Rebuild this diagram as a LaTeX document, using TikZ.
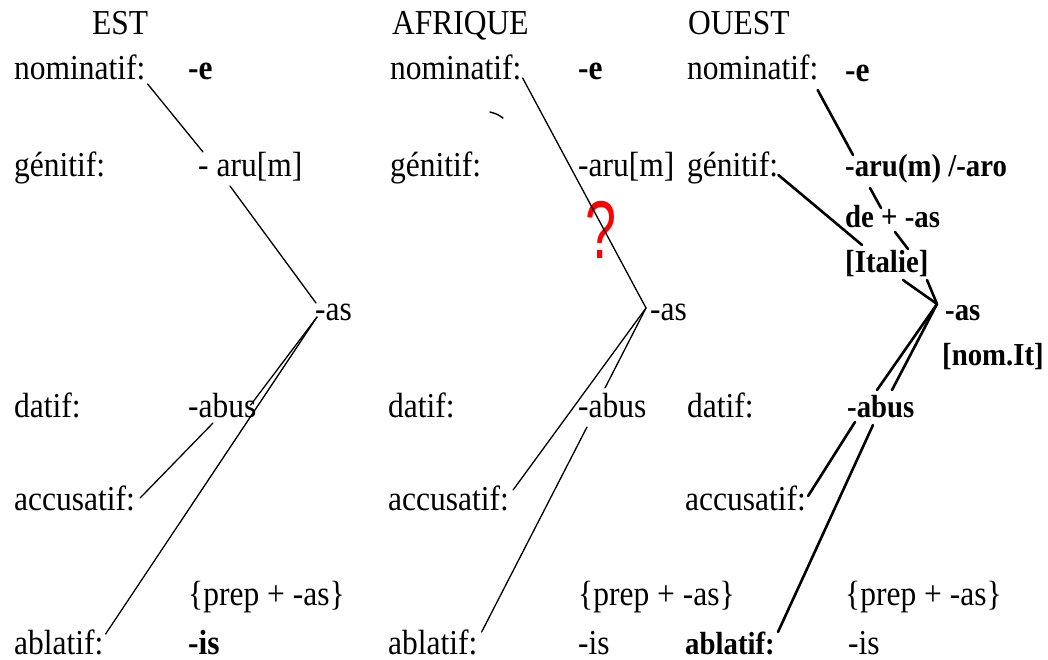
\documentclass[tikz,border=0pt]{standalone}
\usepackage{fontspec}
\usepackage{graphicx}
\setmainfont[FakeStretch=0.9]{Liberation Serif}
\newfontfamily\qfont{Liberation Sans}
\usetikzlibrary{calc}
\begin{document}
\begin{tikzpicture}[x=1pt,y=-1pt,
  lab/.style={anchor=base west, inner sep=0pt, font=\fontsize{35}{40}\selectfont},
  lbb/.style={anchor=base west, inner sep=0pt, font=\fontsize{35}{40}\selectfont\bfseries},
  bo/.style={anchor=base west, inner sep=0pt, font=\fontsize{32}{37}\selectfont\bfseries},
  lastrow/.style={text depth=0pt},
  thinln/.style={line width=1.3pt, line cap=round},
  thickln/.style={line width=2.6pt, line cap=round}]
\useasboundingbox (0,0) rectangle (1048,660);
% ---------------- EST ----------------
\node[lab] (tE) at (92,35) {EST};
\node[lab] (nE) at (14,80) {nominatif:};
\node[lbb] (eE) at (188,80) {-e};
\node[lab] (gE) at (14,177) {génitif:};
\node[lab] (aE) at (198,177) {- aru[m]};
\node[lab] (sE) at (315,320) {-as};
\node[lab] (dE) at (14,417) {datif:};
\node[lab] (bE) at (188,417) {-abus};
\node[lab] (cE) at (14,510) {accusatif:};
\node[lab] (pE) at (188,605) {\{prep + -as\}};
\node[lab,lastrow] (lE) at (14,654) {ablatif:};
\node[lbb,lastrow] (iE) at (188,654) {-is};
\coordinate (VE) at ($(sE.base west)+(2,-3)$);
\draw[thinln] ($(nE.base east)+(2,4)$) -- ($(aE.base west)+(5,-25)$);
\draw[thinln] ($(aE.base west)+(32,9)$) -- ($(sE.base west)+(1,-17)$);
\draw[thinln] (VE) -- ($(bE.base east)+(-6,-12)$);
\draw[thinln] ($(bE.base west)+(25,6)$) -- ($(cE.base east)+(5,-12)$);
\draw[thinln] (VE) -- ($(lE.base east)+(2,-20)$);
% ---------------- AFRIQUE ----------------
\node[lab] (tA) at (392,35) {AFRIQUE};
\node[lab] (nA) at (390,80) {nominatif:};
\node[lbb] (eA) at (578,80) {-e};
\node[lab] (gA) at (390,177) {génitif:};
\node[lab] (aA) at (578,177) {-aru[m]};
\node[lab] (sA) at (650,320) {-as};
\node[lab] (dA) at (388,417) {datif:};
\node[lab] (bA) at (578,417) {-abus};
\node[lab] (cA) at (388,510) {accusatif:};
\node[lab] (pA) at (578,605) {\{prep + -as\}};
\node[lab,lastrow] (lA) at (388,654) {ablatif:};
\node[lab,lastrow] (iA) at (578,654) {-is};
\node[anchor=base, inner sep=0pt, text=red, font=\qfont\fontsize{82}{82}\selectfont] (qA) at (601,258) {\scalebox{0.68}[1]{?}};
\coordinate (VA) at ($(sA.base west)+(-4,-12)$);
\draw[thinln] ($(nA.base east)+(1,-2)$) -- (VA);
\draw[thinln] (VA) -- ($(cA.base east)+(4,-20)$);
\draw[thinln] (VA) -- ($(bA.base west)+(27,-29)$);
\draw[thinln] ($(bA.base west)+(9,10)$) -- ($(lA.base east)+(4,-22)$);
\draw[line width=1.4pt, line cap=round] (490,112) .. controls (497,114) .. (503,118);
% ---------------- OUEST ----------------
\node[lab] (tO) at (688,35) {OUEST};
\node[lab] (nO) at (687,80) {nominatif:};
\node[lbb] (eO) at (845,82) {-e};
\node[lab] (gO) at (687,177) {génitif:};
\node[bo] (aO) at (845,177) {-aru(m) /-aro};
\node[bo] (deO) at (845,227) {de + -as};
\node[bo] (itO) at (845,272) {[Italie]};
\node[bo] (sO) at (945,320) {-as};
\node[bo] (nmO) at (942,365) {[nom.It]};
\node[lab] (dO) at (687,417) {datif:};
\node[bo] (bO) at (847,417) {-abus};
\node[lab] (cO) at (685,510) {accusatif:};
\node[lab] (pO) at (845,605) {\{prep + -as\}};
\node[bo,lastrow] (lO) at (685,654) {ablatif:};
\node[lab,lastrow] (iO) at (848,654) {-is};
\coordinate (VO) at ($(sO.base west)+(-8,-16)$);
\draw[thickln] ($(nO.base east)+(-1,10)$) -- ($(aO.base west)+(8,-22)$);
\draw[thickln] ($(gO.base east)+(0,-2)$) -- ($(itO.base west)+(17,-27)$);
\draw[thickln] ($(aO.base west)+(25,11)$) -- ($(deO.base west)+(36,-19)$);
\draw[thickln] ($(deO.base west)+(50,5)$) -- ($(itO.base west)+(63,-23)$);
\draw[thickln] ($(itO.base west)+(58,8)$) -- (VO);
\draw[thickln] ($(itO.base west)+(82,8)$) -- (VO);
\draw[thickln] (VO) -- ($(bO.base west)+(30,-27)$);
\draw[thickln] (VO) -- ($(bO.base west)+(45,-27)$);
\draw[thickln] ($(bO.base west)+(8,5)$) -- ($(cO.base east)+(2,-14)$);
\draw[thickln] ($(bO.base west)+(26,8)$) -- ($(lO.base east)+(3,-22)$);
\end{tikzpicture}
\end{document}
